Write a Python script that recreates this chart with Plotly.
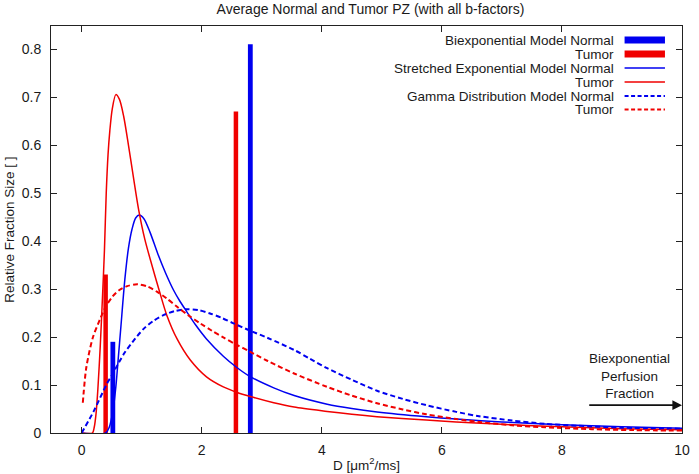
import plotly.graph_objects as go

# ---------------- data ----------------
bi_normal_x = [0.52, 2.81]
bi_normal_y = [0.19, 0.81]
bi_tumor_x = [0.40, 2.57]
bi_tumor_y = [0.33, 0.67]

se_normal_x = [0, 0.40, 0.46, 0.52, 0.57, 0.61, 0.65, 0.72, 0.78, 0.84, 0.90, 0.96, 1.04, 1.14,
               1.27, 1.40, 1.53, 1.64, 1.75, 1.90, 2.08, 2.36, 2.58, 2.80, 3.2, 3.54, 4.09, 4.5,
               4.92, 5.74, 6.24, 7.0, 8.0, 9.0, 10.0]
se_normal_y = [0, 0, 0.012, 0.045, 0.096, 0.155, 0.215, 0.32, 0.385, 0.425, 0.448, 0.454, 0.446, 0.418,
               0.373, 0.333, 0.298, 0.274, 0.253, 0.225, 0.196, 0.16, 0.137, 0.118, 0.094, 0.078, 0.060, 0.051,
               0.044, 0.034, 0.029, 0.023, 0.017, 0.013, 0.010]

se_tumor_x = [0, 0.18, 0.21, 0.24, 0.27, 0.31, 0.35, 0.38, 0.41, 0.44, 0.47, 0.51, 0.57, 0.63, 0.70,
              0.78, 0.86, 0.95, 1.05, 1.17, 1.29, 1.42, 1.59, 1.81, 2.08, 2.36, 2.58, 2.81, 3.2, 3.54, 4.09,
              4.5, 4.92, 5.74, 6.24, 7.0, 8.0, 9.0, 10.0]
se_tumor_y = [0, 0, 0.012, 0.04, 0.09, 0.18, 0.29, 0.38, 0.50, 0.58, 0.63, 0.675, 0.705, 0.695, 0.66,
              0.60, 0.535, 0.465, 0.405, 0.35, 0.298, 0.245, 0.196, 0.152, 0.117, 0.096, 0.085, 0.076, 0.063, 0.054, 0.045,
              0.039, 0.034, 0.027, 0.023, 0.018, 0.013, 0.009, 0.007]

gd_normal_x = [0, 0.2, 0.41, 0.52, 0.71, 0.85, 1.04, 1.2, 1.37, 1.55, 1.75, 1.95, 2.14, 2.33, 2.52,
               2.81, 3.1, 3.54, 3.8, 4.09, 4.5, 4.92, 5.35, 5.74, 6.24, 6.62, 7.17, 7.72, 8.27, 9.0, 10.0]
gd_normal_y = [0, 0.045, 0.10, 0.124, 0.166, 0.19, 0.218, 0.234, 0.246, 0.254, 0.258, 0.256, 0.249, 0.24, 0.229,
               0.213, 0.198, 0.173, 0.155, 0.135, 0.111, 0.088, 0.071, 0.058, 0.044, 0.035, 0.026, 0.019, 0.015, 0.011, 0.009]

gd_tumor_x = [0.02, 0.08, 0.19, 0.30, 0.41, 0.52, 0.63, 0.76, 0.93, 1.1, 1.26, 1.42, 1.59, 1.78, 1.98,
              2.17, 2.36, 2.58, 2.81, 3.1, 3.54, 4.09, 4.5, 4.92, 5.35, 5.74, 6.24, 6.62, 7.17, 7.72,
              8.5, 9.2, 10.0]
gd_tumor_y = [0.063, 0.138, 0.2, 0.235, 0.265, 0.285, 0.298, 0.306, 0.31, 0.305, 0.294, 0.28, 0.263, 0.245, 0.228,
              0.213, 0.199, 0.184, 0.169, 0.15, 0.124, 0.096, 0.078, 0.062, 0.049, 0.039, 0.029, 0.023, 0.016, 0.012,
              0.008, 0.006, 0.005]

legend_labels = ["Biexponential Model Normal", "Tumor", "Stretched Exponential Model Normal",
                 "Tumor", "Gamma Distribution Model Normal", "Tumor"]

x_ticks = [0, 2, 4, 6, 8, 10]
y_ticks = [0, 0.1, 0.2, 0.3, 0.4, 0.5, 0.6, 0.7, 0.8]

title_text = "Average Normal and Tumor PZ (with all b-factors)"
x_title = "D [μm<sup>2</sup>/ms]"
y_title = "Relative Fraction Size [ ]"
arrow_text = "Biexponential<br>Perfusion<br>Fraction"

# ---------------- styling ----------------
BLUE = "#0000f0"
RED = "#f00000"
TXT = "#1a1a1a"
FONT = "Liberation Sans, Arial, sans-serif"
FS = 13.5
TFS = 14

fig = go.Figure()

fig.add_trace(go.Scatter(x=se_normal_x, y=se_normal_y, mode="lines",
                         line=dict(color=BLUE, width=1.5, shape="spline", smoothing=0.8)))
fig.add_trace(go.Scatter(x=se_tumor_x, y=se_tumor_y, mode="lines",
                         line=dict(color=RED, width=1.5, shape="spline", smoothing=0.8)))
fig.add_trace(go.Scatter(x=gd_normal_x, y=gd_normal_y, mode="lines",
                         line=dict(color=BLUE, width=2, dash="5px,3px", shape="spline", smoothing=0.8)))
fig.add_trace(go.Scatter(x=gd_tumor_x, y=gd_tumor_y, mode="lines",
                         line=dict(color=RED, width=2, dash="5px,3px", shape="spline", smoothing=0.8)))
fig.add_trace(go.Bar(x=bi_normal_x, y=bi_normal_y, width=0.08, marker=dict(color=BLUE, line=dict(width=0))))
fig.add_trace(go.Bar(x=bi_tumor_x, y=bi_tumor_y, width=0.075, marker=dict(color=RED, line=dict(width=0))))

axis_common = dict(showline=True, linecolor="#222", linewidth=1, mirror="allticks",
                   ticks="inside", ticklen=6, tickcolor="#222", showgrid=False, zeroline=False,
                   tickfont=dict(family=FONT, size=TFS, color=TXT))

fig.update_xaxes(range=[-0.51, 10.0], tickvals=x_ticks, ticktext=[str(v) for v in x_ticks],
                 ticklabelstandoff=4, **axis_common)
fig.update_yaxes(range=[0, 0.848], tickvals=y_ticks, ticktext=["0"] + [f"{v:.1f}" for v in y_ticks[1:]],
                 ticklabelstandoff=6, **axis_common)

# legend (gnuplot-style: text right-aligned, sample on the right)
leg_y = [0.9656, 0.9312, 0.8968, 0.8624, 0.828, 0.7948]
leg_styles = [dict(color=BLUE, width=7), dict(color=RED, width=7),
              dict(color=BLUE, width=1.5), dict(color=RED, width=1.5),
              dict(color=BLUE, width=2, dash="4px,2.5px"), dict(color=RED, width=2, dash="4px,2.5px")]
annotations = []
shapes = []
for lab, yy, st in zip(legend_labels, leg_y, leg_styles):
    annotations.append(dict(text=lab, x=0.896, y=yy, xref="paper", yref="paper", xanchor="right",
                            yanchor="middle", showarrow=False, font=dict(family=FONT, size=FS, color=TXT)))
    shapes.append(dict(type="line", xref="paper", yref="paper", x0=0.909, x1=0.973, y0=yy, y1=yy, line=st))

# axis titles
annotations.append(dict(text=x_title, x=0.5, y=-0.076, xref="paper", yref="paper", xanchor="center",
                        yanchor="middle", showarrow=False, font=dict(family=FONT, size=FS, color=TXT)))
annotations.append(dict(text=y_title, x=-0.066, y=0.5, xref="paper", yref="paper", xanchor="center",
                        yanchor="middle", textangle=-90, showarrow=False,
                        font=dict(family=FONT, size=FS, color=TXT)))
# arrow annotation
annotations.append(dict(text="", x=10.0, y=0.058, ax=8.43, ay=0.058, xref="x", yref="y", axref="x", ayref="y",
                        showarrow=True, arrowhead=2, arrowsize=1.2, arrowwidth=1.6, arrowcolor="#111"))
annotations.append(dict(text=arrow_text, x=9.13, y=0.118, xref="x", yref="y", xanchor="center",
                        yanchor="middle", align="center", showarrow=False,
                        font=dict(family=FONT, size=FS, color=TXT)))

fig.update_layout(
    width=699, height=474,
    margin=dict(l=51, r=9, t=26, b=41),
    paper_bgcolor="white", plot_bgcolor="white",
    showlegend=False, barmode="overlay",
    title=dict(text=title_text, x=(51 + 319.5) / 699, xanchor="center", y=1 - 9 / 474, yanchor="middle",
               yref="container", font=dict(family=FONT, size=TFS, color=TXT)),
    annotations=annotations, shapes=shapes,
)

fig.write_html("out.html", config={"displayModeBar": False},
               post_script="document.body.style.margin='0px';")
